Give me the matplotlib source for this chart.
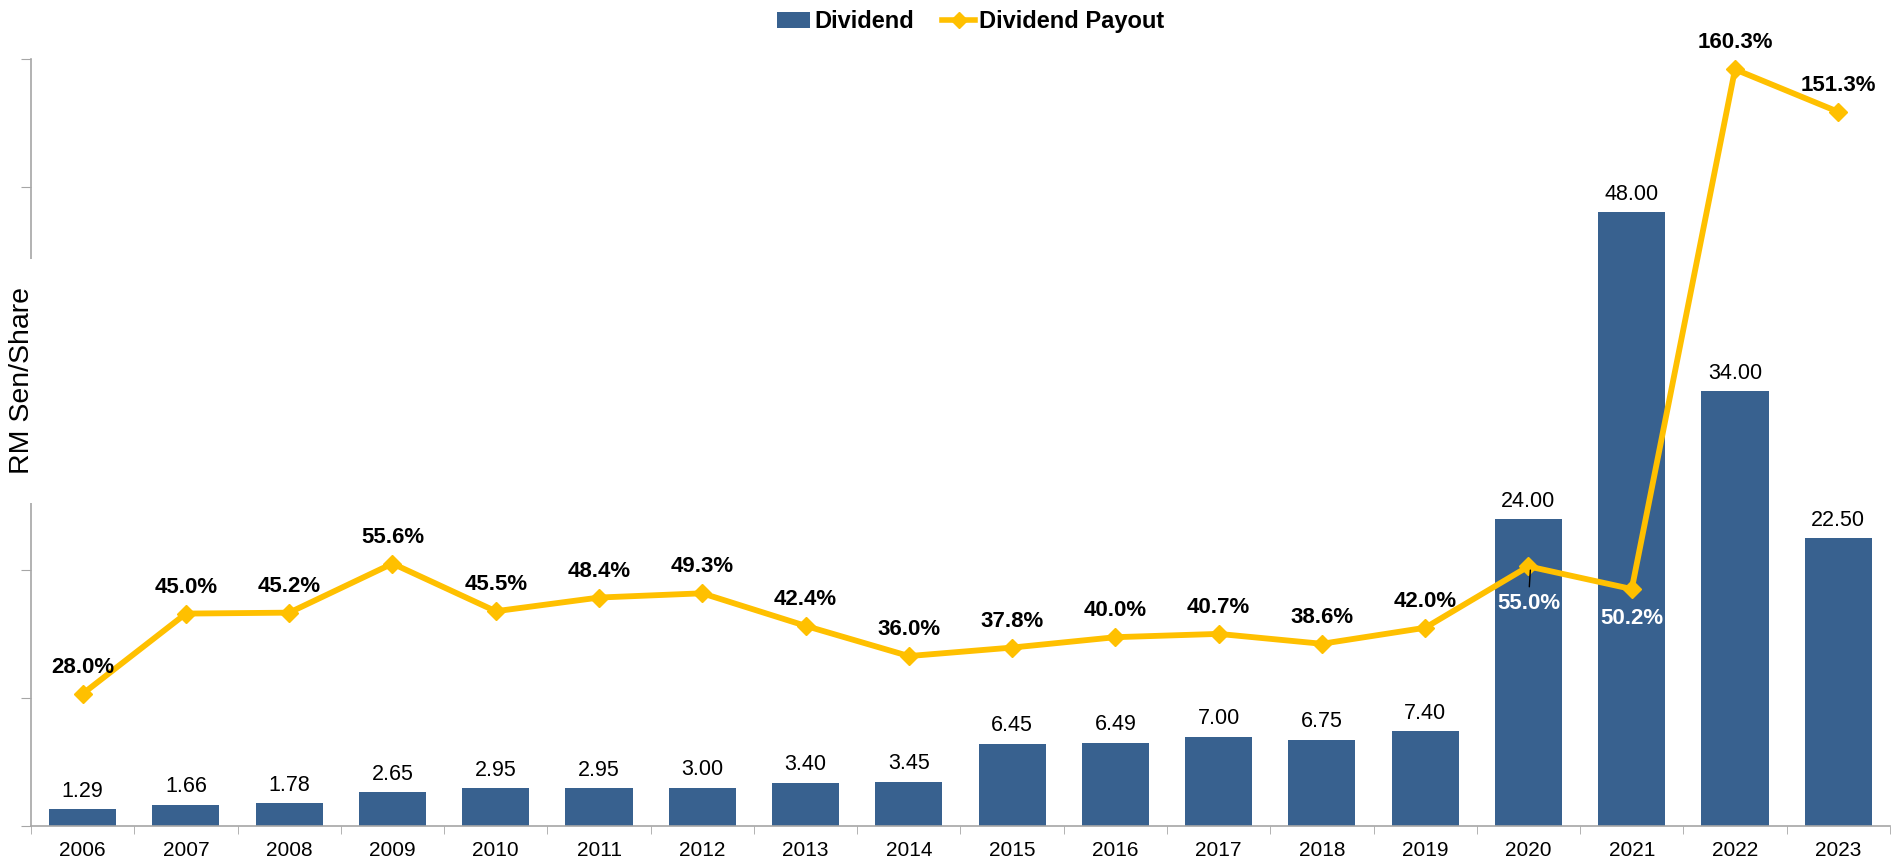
import matplotlib.pyplot as plt
from matplotlib.patches import Patch
from matplotlib.lines import Line2D
import numpy as np

plt.rcParams['font.family'] = ['Liberation Sans', 'DejaVu Sans']

years = ['2006', '2007', '2008', '2009', '2010', '2011', '2012', '2013', '2014',
         '2015', '2016', '2017', '2018', '2019', '2020', '2021', '2022', '2023']
dividend = [1.29, 1.66, 1.78, 2.65, 2.95, 2.95, 3.00, 3.40, 3.45,
            6.45, 6.49, 7.00, 6.75, 7.40, 24.00, 48.00, 34.00, 22.50]
payout = [28.0, 45.0, 45.2, 55.6, 45.5, 48.4, 49.3, 42.4, 36.0,
          37.8, 40.0, 40.7, 38.6, 42.0, 55.0, 50.2, 160.3, 151.3]
# labels that sit inside the bars (white, below the marker)
inside_labels = ['2020', '2021']

bar_color = '#38618F'
line_color = '#FFC000'
axis_gray = '#A6A6A6'

fig = plt.figure(figsize=(18.92, 8.65), dpi=100)
ax = fig.add_axes([0.0164, 0.0451, 0.9825, 0.8867])
x = np.arange(len(years))

ax.bar(x, dividend, width=0.65, color=bar_color, zorder=2)
ax.set_xlim(-0.5, len(years) - 0.5)
ax.set_ylim(0, 60)
ax.set_yticks(np.arange(0, 61, 10))
ax.set_yticklabels([])
ax.tick_params(axis='y', length=7, color=axis_gray, direction='out')
ax.set_xticks(x)
ax.set_xticklabels(years, fontsize=15)
ax.set_xticks(np.arange(-0.5, len(years), 1), minor=True)
ax.tick_params(axis='x', which='major', length=0, pad=11)
ax.tick_params(axis='x', which='minor', length=6, color=axis_gray)
for s in ['top', 'right']:
    ax.spines[s].set_visible(False)
for s in ['left', 'bottom']:
    ax.spines[s].set_color(axis_gray)
    ax.spines[s].set_linewidth(1.2)

for xi, v in zip(x, dividend):
    ax.annotate(f'{v:.2f}', (xi, v), xytext=(0, 13), textcoords='offset points',
                ha='center', va='center', fontsize=15.5)

ax2 = ax.twinx()
ax2.set_ylim(0, 162.5)
ax2.axis('off')
ax2.plot(x, payout, color=line_color, lw=4.2, marker='D', markersize=9, zorder=3)

for xi, yr, p in zip(x, years, payout):
    if yr in inside_labels:
        off = -27 if yr == '2020' else -21
        ax2.annotate(f'{p:.1f}%', (xi, p), xytext=(0, off), textcoords='offset points',
                     ha='center', va='center', fontsize=16, fontweight='bold', color='white')
    else:
        ax2.annotate(f'{p:.1f}%', (xi, p), xytext=(0, 19), textcoords='offset points',
                     ha='center', va='center', fontsize=16, fontweight='bold')

# small leader line at 2020
i20 = years.index('2020')
ax2.annotate('', (i20 + 0.02, payout[i20] - 0.2), xytext=(-1, -16), textcoords='offset points',
             arrowprops=dict(arrowstyle='-', color='black', lw=1))

fig.text(0.0118, 0.56, 'RM Sen/Share', rotation=90, ha='center', va='center', fontsize=20.5,
         bbox=dict(facecolor='white', edgecolor='none', boxstyle='square,pad=1.0'))

handles = [Patch(facecolor=bar_color, edgecolor='none'),
           Line2D([0], [0], color=line_color, lw=4, marker='D', markersize=8)]
fig.legend(handles, ['Dividend', 'Dividend Payout'], loc='center', bbox_to_anchor=(0.513, 0.975),
           ncol=2, frameon=False, prop={'size': 17, 'weight': 'bold'},
           handlelength=1.4, handletextpad=0.15, columnspacing=1.2)

fig.savefig('out.png', dpi=100)
